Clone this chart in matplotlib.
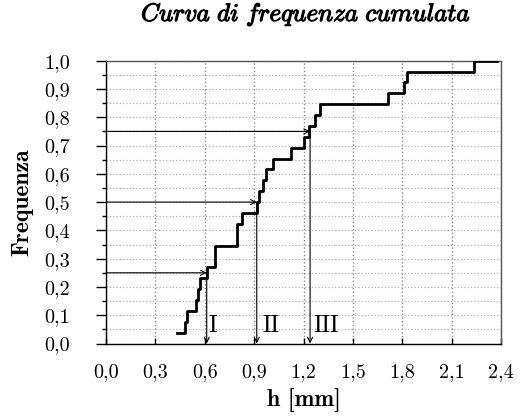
import matplotlib
matplotlib.use("Agg")
import matplotlib.pyplot as plt
import matplotlib.patheffects as pe
import numpy as np

plt.rcParams['mathtext.fontset'] = 'cm'

# Sorted sample values h [mm] (26 observations) and end of last step
valori_h = [0.433, 0.480, 0.494, 0.547, 0.557, 0.574, 0.612, 0.662, 0.662,
            0.794, 0.794, 0.824, 0.916, 0.932, 0.952, 0.972, 1.013, 1.122,
            1.203, 1.235, 1.268, 1.298, 1.716, 1.811, 1.827, 2.236]
h_fine = 2.378

# Quartiles read on the curve
quartili_f = [0.25, 0.50, 0.75]
quartili_h = [0.612, 0.916, 1.240]
quartili_nome = ["I", "II", "III"]
nome_x = [0.650, 1.000, 1.337]

x_ticks = [0.0, 0.3, 0.6, 0.9, 1.2, 1.5, 1.8, 2.1, 2.4]
y_ticks = [0.0, 0.1, 0.2, 0.3, 0.4, 0.5, 0.6, 0.7, 0.8, 0.9, 1.0]

n = len(valori_h)
freq_cum = [(i + 1) / n for i in range(n)]

fig = plt.figure(figsize=(5.21, 4.18), dpi=100)
ax = fig.add_axes([106 / 521, (418 - 343.5) / 418, 395 / 521, 282.8 / 418])

# grid
ax.set_xticks(x_ticks)
ax.set_yticks(y_ticks)
ax.set_yticks(np.arange(0.05, 1.0, 0.1), minor=True)
ax.grid(axis='x', which='major', linestyle=':', color='#8a8a8a', linewidth=1.0)
ax.grid(axis='y', which='both', linestyle=':', color='#b0b0b0', linewidth=0.9)
ax.set_axisbelow(True)

# cumulative step curve
ax.step(valori_h + [h_fine], freq_cum + [freq_cum[-1]], where='post',
        color='black', linewidth=2.0, zorder=3)

# quartile arrows
for f, q, nome, xn in zip(quartili_f, quartili_h, quartili_nome, nome_x):
    ax.annotate("", xy=(q, f), xytext=(0, f),
                arrowprops=dict(arrowstyle='->', color='black', lw=0.8,
                                shrinkA=0, shrinkB=0, mutation_scale=9),
                zorder=4)
    ax.annotate("", xy=(q, 0), xytext=(q, f),
                arrowprops=dict(arrowstyle='->', color='black', lw=0.8,
                                shrinkA=0, shrinkB=0, mutation_scale=9),
                zorder=4)
    ax.text(xn, 0.04, nome, family='cmr10', fontsize=17,
            ha='center', va='baseline', zorder=5)

ax.set_xlim(0, 2.4)
ax.set_ylim(0, 1.0)

ax.set_xticklabels([f"{v:.1f}".replace('.', ',') for v in x_ticks],
                   family='cmr10', fontsize=14.5)
ax.set_yticklabels([f"{v:.1f}".replace('.', ',') for v in y_ticks],
                   family='cmr10', fontsize=14.5)
ax.tick_params(axis='x', which='major', direction='in', length=4, pad=14, width=1)
ax.tick_params(axis='y', which='major', direction='out', length=7, pad=19, width=1)
ax.tick_params(axis='y', which='minor', direction='out', length=3, width=1)

for nome_spina, spina in ax.spines.items():
    spina.set_linewidth(1.0)
    spina.set_color('black' if nome_spina in ('left', 'bottom') else '#555555')

fig.text(22 / 521, (418 - 202) / 418, "Frequenza", family='cmb10', fontsize=17,
         rotation=90, ha='center', va='center')
fig.text(303.5 / 521, (418 - 401) / 418, "h [mm]", family='cmb10', fontsize=17,
         ha='center', va='center')

titolo = fig.text(306 / 521, (418 - 21) / 418,
                  r"$\mathit{Curva\ di\ frequenza\ cumulata}$",
                  ha='center', va='baseline', fontsize=18)
titolo.set_path_effects([pe.withStroke(linewidth=0.8, foreground='black')])

fig.savefig("out.png", dpi=100)
